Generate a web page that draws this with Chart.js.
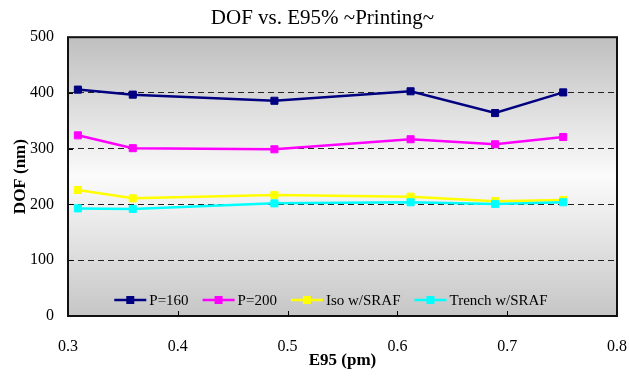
<!DOCTYPE html>
<html>
<head>
<meta charset="utf-8">
<script src="https://cdn.jsdelivr.net/npm/chart.js@4/dist/chart.umd.min.js"></script>
<style>
  html, body { margin: 0; padding: 0; background: #fff; }
  #wrap { width: 629px; height: 377px; }
</style>
</head>
<body>
<div id="wrap"><canvas id="dofChart" width="629" height="377"></canvas></div>
<script>
// E95 values (pm) of each measurement
const e95 = [0.309, 0.359, 0.488, 0.612, 0.689, 0.751];

// DOF (nm) per pattern
const p160 = [406, 397, 386, 403, 364, 401];
const p200 = [324, 301, 299, 317, 308, 321];
const isoSraf = [226, 211, 217, 214, 206, 208];
const trenchSraf = [193, 192, 202, 204, 201, 204];

const seriesNames = ['P=160', 'P=200', 'Iso w/SRAF', 'Trench w/SRAF'];
const seriesColors = ['#000080', '#ff00ff', '#ffff00', '#00ffff'];
const seriesValues = [p160, p200, isoSraf, trenchSraf];

const FONT = "'Liberation Serif', 'Times New Roman', serif";

function toPoints(values) {
  return values.map((v, i) => ({ x: e95[i], y: v }));
}

// gray -> white -> gray fill behind the plot
const plotBackground = {
  id: 'plotBackground',
  beforeDraw(chart) {
    const { ctx, chartArea: a } = chart;
    const g = ctx.createLinearGradient(0, a.top, 0, a.bottom);
    g.addColorStop(0, '#bfbfbf');
    g.addColorStop(0.5, '#fbfbfb');
    g.addColorStop(1, '#c6c6c6');
    ctx.save();
    ctx.fillStyle = g;
    ctx.fillRect(a.left, a.top, a.right - a.left, a.bottom - a.top);
    ctx.restore();
  }
};

// frame, inward tick marks and the legend inside the plot
const plotFrame = {
  id: 'plotFrame',
  afterDraw(chart) {
    const { ctx, chartArea: a, scales } = chart;
    ctx.save();
    ctx.strokeStyle = '#000';
    ctx.lineWidth = 1;
    ctx.beginPath();
    scales.x.ticks.forEach(t => {
      const px = Math.round(scales.x.getPixelForValue(t.value)) + 0.5;
      ctx.moveTo(px, a.bottom);
      ctx.lineTo(px, a.bottom - 5);
    });
    scales.y.ticks.forEach(t => {
      const py = Math.round(scales.y.getPixelForValue(t.value)) + 0.5;
      ctx.moveTo(a.left, py);
      ctx.lineTo(a.left + 5, py);
    });
    ctx.stroke();

    ctx.lineWidth = 2;
    ctx.strokeStyle = '#111';
    ctx.strokeRect(a.left, a.top, a.right - a.left, a.bottom - a.top);

    // legend
    ctx.font = '15px ' + FONT;
    ctx.textBaseline = 'middle';
    const lineLen = 32, textGap = 3, itemGap = 14;
    const items = chart.data.datasets.map(ds => ({
      label: ds.label, color: ds.borderColor,
      w: lineLen + textGap + ctx.measureText(ds.label).width
    }));
    const total = items.reduce((s, it) => s + it.w, 0) + itemGap * (items.length - 1);
    let x = 331 - total / 2;
    const y = a.bottom - 16;
    items.forEach(it => {
      ctx.strokeStyle = it.color;
      ctx.lineWidth = 2.5;
      ctx.beginPath();
      ctx.moveTo(x, y);
      ctx.lineTo(x + lineLen, y);
      ctx.stroke();
      ctx.fillStyle = it.color;
      ctx.fillRect(x + lineLen / 2 - 4, y - 4, 8, 8);
      ctx.fillStyle = '#000';
      ctx.fillText(it.label, x + lineLen + textGap, y + 1);
      x += it.w + itemGap;
    });
    ctx.restore();
  }
};

const datasets = seriesValues.map((vals, i) => ({
  label: seriesNames[i],
  data: toPoints(vals),
  borderColor: seriesColors[i],
  backgroundColor: seriesColors[i],
  borderWidth: 2.5,
  pointStyle: 'rect',
  pointRadius: 5,
  pointBorderWidth: 1,
  pointBorderColor: seriesColors[i],
  pointBackgroundColor: seriesColors[i],
  tension: 0,
  order: seriesValues.length - i
}));

new Chart(document.getElementById('dofChart'), {
  type: 'line',
  data: { datasets },
  options: {
    responsive: false,
    animation: false,
    events: [],
    layout: { padding: { left: 28, right: 12, top: 0, bottom: 0 } },
    plugins: {
      legend: { display: false },
      tooltip: { enabled: false },
      title: {
        display: true,
        text: 'DOF vs. E95% ~Printing~',
        color: '#000',
        font: { family: FONT, size: 21, weight: 'normal' },
        padding: { top: 6, bottom: 6 }
      }
    },
    scales: {
      x: {
        type: 'linear',
        min: 0.3,
        max: 0.8,
        afterFit(scale) {
          scale.height = 61;
          scale.paddingLeft = 0;
          scale.paddingRight = 0;
        },
        ticks: {
          stepSize: 0.1,
          color: '#000',
          font: { family: FONT, size: 16 },
          padding: 21,
          callback: v => v.toFixed(1)
        },
        grid: { display: false, drawTicks: false },
        border: { display: false },
        title: {
          display: true,
          text: 'E95 (pm)',
          color: '#000',
          font: { family: FONT, size: 17, weight: 'bold' },
          padding: { top: 0, bottom: 6 }
        }
      },
      y: {
        min: 0,
        max: 500,
        afterFit(scale) { scale.width = 40; },
        ticks: {
          stepSize: 100,
          color: '#000',
          font: { family: FONT, size: 16 },
          padding: 14
        },
        grid: {
          drawTicks: false,
          lineWidth: 1,
          color: ctx => (ctx.tick.value === 0 || ctx.tick.value === 500) ? 'rgba(0,0,0,0)' : '#222'
        },
        border: { display: false, dash: [6, 4] },
        title: {
          display: true,
          text: 'DOF (nm)',
          color: '#000',
          font: { family: FONT, size: 17, weight: 'bold' },
          padding: { top: -18, bottom: 0 }
        }
      }
    }
  },
  plugins: [plotBackground, plotFrame]
});
</script>
</body>
</html>
